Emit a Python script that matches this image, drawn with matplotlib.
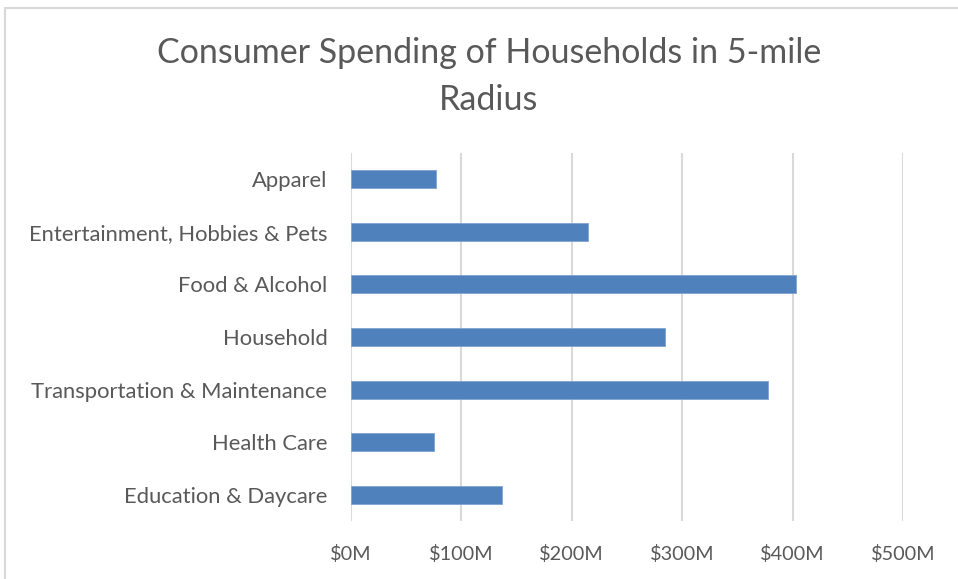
import matplotlib.pyplot as plt
from matplotlib.patches import Rectangle
from matplotlib.ticker import FuncFormatter

# data (millions of dollars)
categories = ['Apparel', 'Entertainment, Hobbies & Pets', 'Food & Alcohol', 'Household',
              'Transportation & Maintenance', 'Health Care', 'Education & Daycare']
spending = [77, 215, 403, 284, 378, 75, 137]
x_ticks = [0, 100, 200, 300, 400, 500]

text_col = '#595959'
bar_col = '#4F81BD'
grid_col = '#D9D9D9'

plt.rcParams['font.family'] = ['Lato', 'DejaVu Sans']

fig = plt.figure(figsize=(9.58, 5.79), dpi=100)
# plot area in pixels: x 351-903, y 153-521
W, H = 958, 579
ax = fig.add_axes([351 / W, 1 - 521 / H, (903 - 351) / W, (521 - 153) / H])

# chart frame (left/top edges visible only)
fig.patches.append(Rectangle((5 / W, -0.1), 1.2, 1 - 8 / H + 0.1, transform=fig.transFigure,
                             fill=False, edgecolor='#D9D9D9', linewidth=1.5))

ypos = list(range(len(categories)))
ax.barh(ypos, spending, height=0.34, color=bar_col, edgecolor='#7FA3D1', linewidth=0.6, zorder=3)
ax.set_ylim(len(categories) - 0.5, -0.5)
ax.set_yticks(ypos)
ax.set_yticklabels(categories)

ax.set_xlim(0, 500)
ax.set_xticks(x_ticks)
ax.xaxis.set_major_formatter(FuncFormatter(lambda v, p: '$%dM' % v))
ax.grid(axis='x', color=grid_col, linewidth=1.5, zorder=0)

for s in ax.spines.values():
    s.set_visible(False)
ax.tick_params(axis='both', length=0, colors=text_col)
ax.tick_params(axis='y', pad=17, labelsize=15.8)
ax.tick_params(axis='x', pad=17, labelsize=14.3)

fig.text(489 / W, 1 - 53 / H, 'Consumer Spending of Households in 5-mile', ha='center', va='center',
         fontsize=24.5, color=text_col)
fig.text(489 / W, 1 - 100 / H, 'Radius', ha='center', va='center', fontsize=24.5, color=text_col)

fig.savefig('out.png', dpi=100, facecolor='white')
